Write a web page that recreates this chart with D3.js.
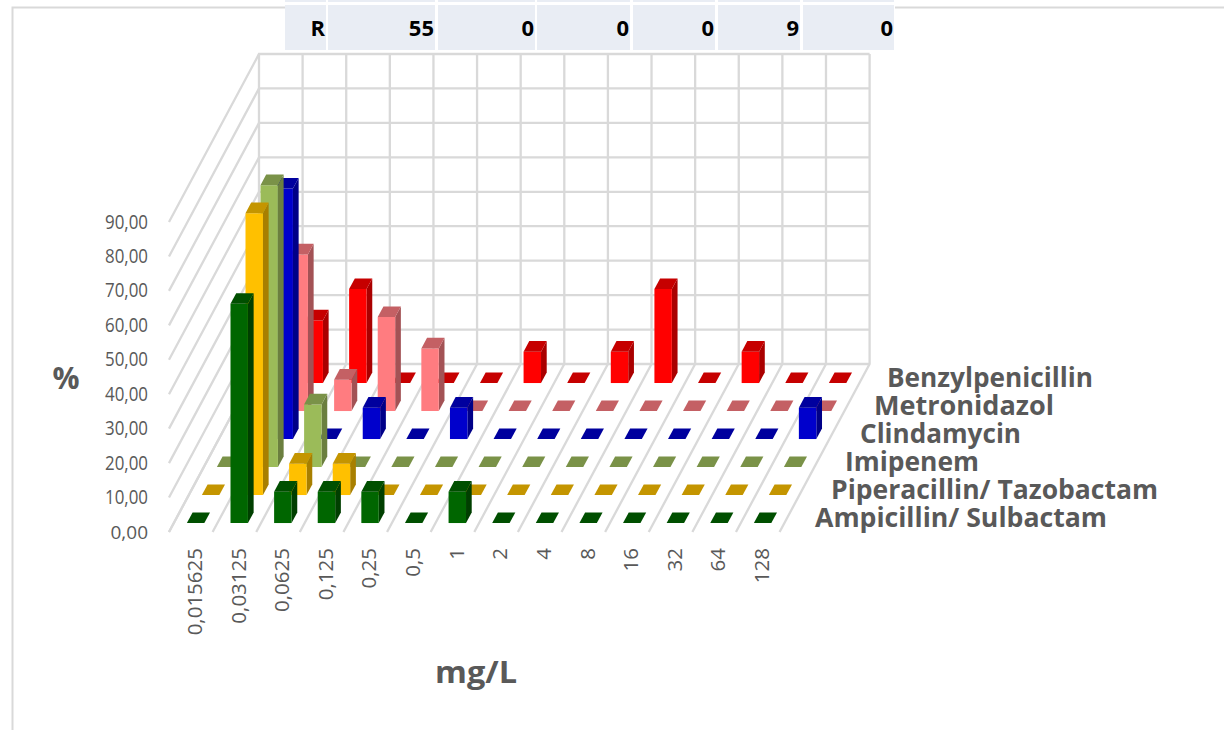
<!DOCTYPE html>
<html><head><meta charset="utf-8">
<script src="https://cdn.jsdelivr.net/npm/d3@7"></script>
<style>html,body{margin:0;padding:0;background:#fff}svg{display:block}</style>
</head><body><svg id="c" width="1224" height="730"></svg>
<script>
const mic = ["0,015625","0,03125","0,0625","0,125","0,25","0,5","1","2","4","8","16","32","64","128"];
const yTicks = [0,10,20,30,40,50,60,70,80,90];
const seriesNames = ["Ampicillin/ Sulbactam","Piperacillin/ Tazobactam","Imipenem","Clindamycin","Metronidazol","Benzylpenicillin"];
const ampicillin     = [0,63.64,9.09,9.09,9.09,0,9.09,0,0,0,0,0,0,0];
const piperacillin   = [0,81.82,9.09,9.09,0,0,0,0,0,0,0,0,0,0];
const imipenem       = [0,81.82,18.18,0,0,0,0,0,0,0,0,0,0,0];
const clindamycin    = [0,72.73,0,9.09,0,9.09,0,0,0,0,0,0,0,9.09];
const metronidazol   = [0,45.45,9.09,27.27,18.18,0,0,0,0,0,0,0,0,0];
const benzylpen      = [0,18.18,27.27,0,0,0,9.09,0,9.09,27.27,0,9.09,0,0];
const seriesValues = [ampicillin,piperacillin,imipenem,clindamycin,metronidazol,benzylpen];
const frontColors = ["#006600","#FFC000","#9BBB59","#0000CC","#FF7C80","#FF0000"];
const topColors   = ["#004F00","#C49500","#7A9248","#00009E","#C46064","#C60000"];
const sideColors  = ["#003F00","#A87F00","#6B7F3F","#000088","#A35255","#AA0000"];
const tableRow = ["R","55","0","0","0","9","0"];
const tableEdges = [[285,326],[328,435],[438,535],[537,630],[633,715],[718,800],[803,894]];

const svg = d3.select("#c");
const grid = "#D9D9D9", text = "#595959";
const font = "'Open Sans','Noto Sans',sans-serif";

// Projection scales: column position, depth position and value height
const col = d3.scaleLinear().domain([0,14]).range([169,779.6]);
const depthX = d3.scaleLinear().domain([0,6]).range([0,90]);
const depthY = d3.scaleLinear().domain([0,6]).range([532,364]);
const h = d3.scaleLinear().domain([0,90]).range([0,310]);
const pt = (c,d,v=0)=>[col(c)+depthX(d), depthY(d)-h(v)];
const line = d3.line();

// frame
const frame = svg.append("g").attr("fill","none").attr("stroke",grid).attr("stroke-width",2);
frame.append("path").attr("d","M12.5,730V7.5H285");
frame.append("path").attr("d","M895,7.5H1224");

// grid
const g = svg.append("g").attr("fill","none").attr("stroke",grid).attr("stroke-width",2.3);
yTicks.forEach(t=>{
  g.append("path").attr("d",line([pt(0,0,t),pt(0,6,t),pt(14,6,t)]));
});
d3.range(0,15).forEach(i=>{
  g.append("path").attr("d",line([pt(i,0),pt(i,6),pt(i,6,90)]));
});

// bars, back to front
const barW = 0.4, barD = 0.38, gapC = (1-barW)/2, gapD = 0.32;
d3.range(5,-1,-1).forEach(s=>{
  const vals = seriesValues[s];
  const row = svg.append("g");
  d3.range(13,-1,-1).forEach(c=>{
    const v = vals[c];
    const x0=c+gapC, x1=x0+barW, d0=s+gapD, d1=d0+barD;
    const poly=(pts,fill)=>row.append("path").attr("d",line(pts)+"Z").attr("fill",fill);
    if(v>0){
      poly([pt(x1,d0),pt(x1,d1),pt(x1,d1,v),pt(x1,d0,v)],sideColors[s]);
      poly([pt(x0,d0),pt(x1,d0),pt(x1,d0,v),pt(x0,d0,v)],frontColors[s]);
    }
    poly([pt(x0,d0,v),pt(x1,d0,v),pt(x1,d1,v),pt(x0,d1,v)],topColors[s]);
  });
});

// y tick labels
svg.append("g").selectAll("text").data(yTicks).join("text")
  .attr("x",105).attr("y",t=>pt(0,0,t)[1]+6.5)
  .attr("font-family",font).attr("font-size",20).attr("fill",text)
  .attr("textLength",t=>t===0?0:43).attr("lengthAdjust","spacingAndGlyphs")
  .each(function(t){ if(t===0){ d3.select(this).attr("x",148).attr("text-anchor","end").attr("textLength",null).attr("font-size",19);} })
  .text(t=>d3.format(".2f")(t).replace(".",","));

// x tick labels
svg.append("g").selectAll("text").data(mic).join("text")
  .attr("transform",(m,i)=>`translate(${col(i)+33},548) rotate(-90)`)
  .attr("text-anchor","end").attr("font-family",font).attr("font-size",20.5).attr("fill",text)
  .text(m=>m);

// series labels
const labelX = [815,831,845,860,874,887], labelW=[292,327,134,161,180,206];
svg.append("g").selectAll("text").data(seriesNames).join("text")
  .attr("x",(n,i)=>labelX[i]).attr("y",(n,i)=>527-28*i)
  .attr("font-family",font).attr("font-size",26.5).attr("font-weight",700).attr("fill",text)
  .attr("textLength",(n,i)=>labelW[i]).attr("lengthAdjust","spacingAndGlyphs")
  .text(n=>n);

// axis titles
svg.append("text").attr("x",66).attr("y",389).attr("text-anchor","middle")
  .attr("font-family",font).attr("font-size",30).attr("font-weight",700).attr("fill",text).text("%");
svg.append("text").attr("x",435).attr("y",683)
  .attr("font-family",font).attr("font-size",31).attr("font-weight",700).attr("fill",text)
  .attr("textLength",82).attr("lengthAdjust","spacingAndGlyphs").text("mg/L");

// table fragment
const tb = svg.append("g");
tableRow.forEach((t,i)=>{
  const [a,b]=tableEdges[i];
  tb.append("rect").attr("x",a).attr("y",-2).attr("width",b-a).attr("height",4).attr("fill","#E9EDF4");
  tb.append("rect").attr("x",a).attr("y",5).attr("width",b-a).attr("height",45).attr("fill","#E9EDF4");
  tb.append("text").attr("x",b-1).attr("y",36).attr("text-anchor","end")
    .attr("font-family",font).attr("font-size",22).attr("font-weight",700).attr("fill","#000").text(t);
});
</script></body></html>
